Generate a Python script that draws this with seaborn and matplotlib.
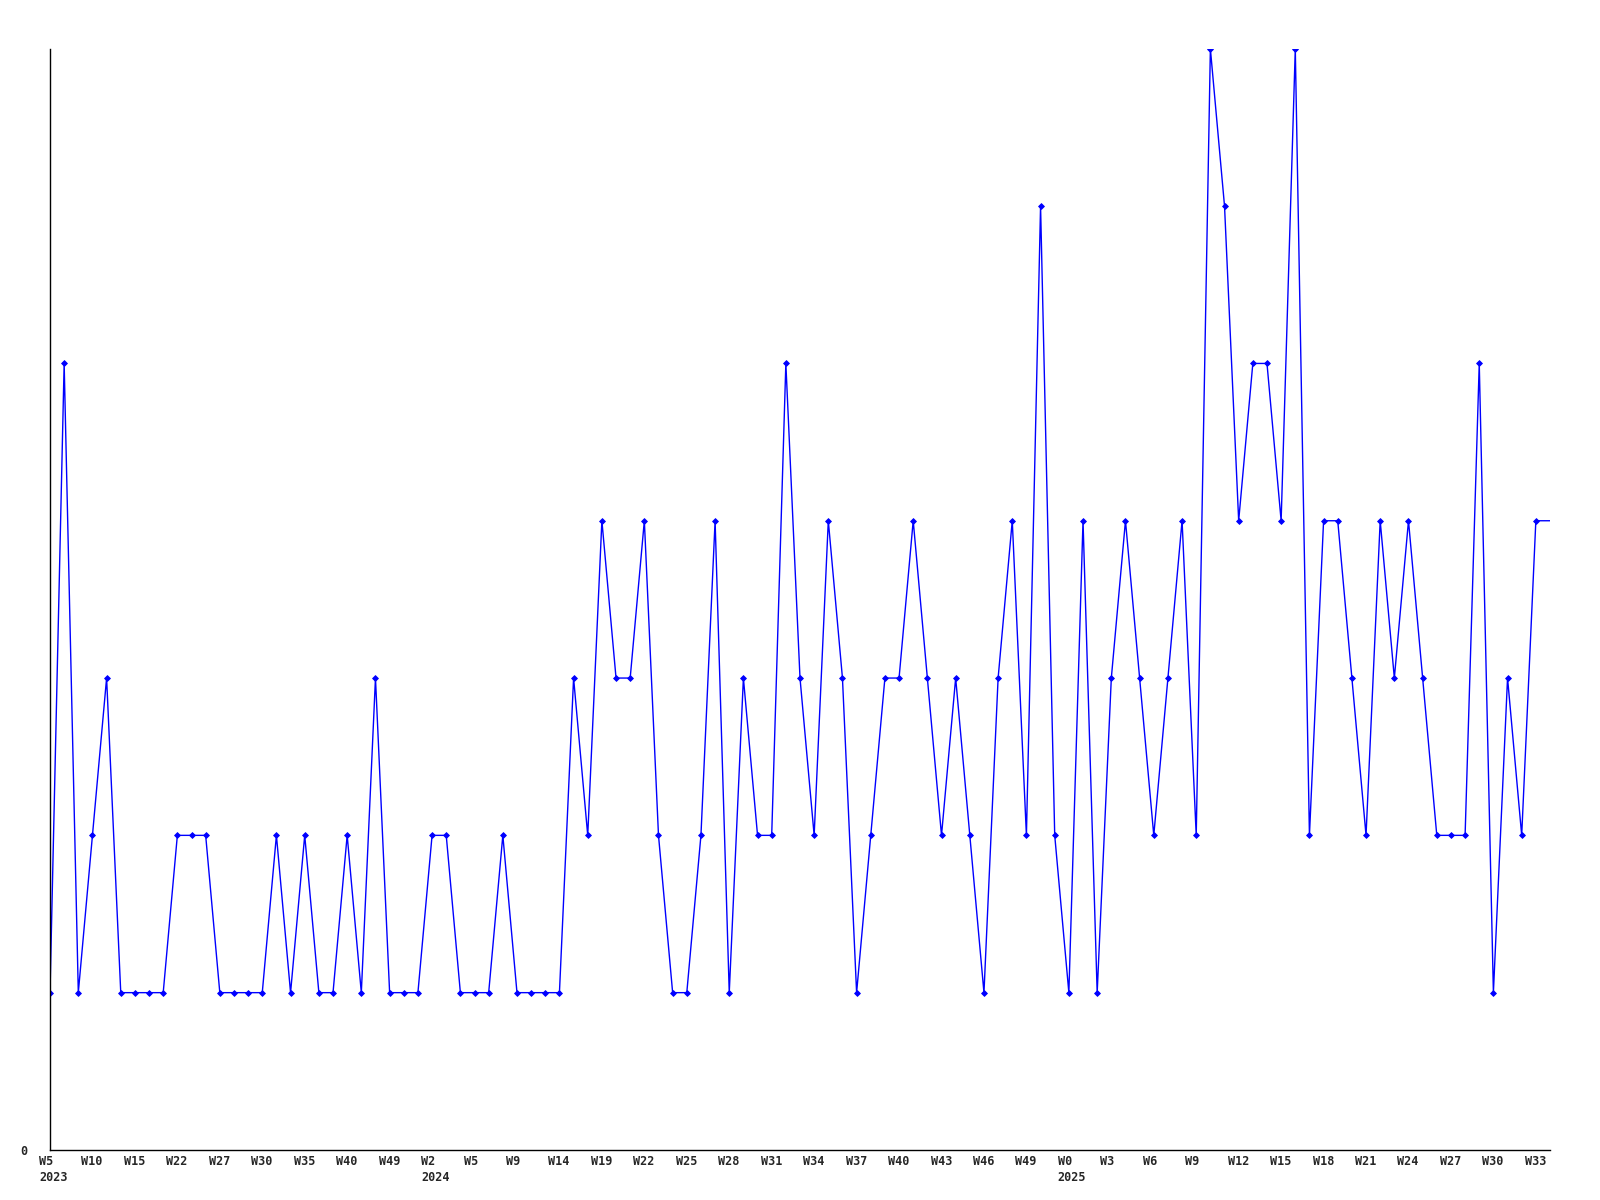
import matplotlib
matplotlib.use("Agg")
import matplotlib.pyplot as plt
import matplotlib.transforms as mtransforms
import numpy as np
import pandas as pd
import seaborn as sns

# weekly counts, one per week; the last value runs to the right edge without a marker
counts = [
    1, 5, 1, 2, 3, 1, 1, 1, 1, 2, 2, 2, 1, 1, 1, 1, 2, 1, 2, 1,
    1, 2, 1, 3, 1, 1, 1, 2, 2, 1, 1, 1, 2, 1, 1, 1, 1, 3, 2, 4,
    3, 3, 4, 2, 1, 1, 2, 4, 1, 3, 2, 2, 5, 3, 2, 4, 3, 1, 2, 3,
    3, 4, 3, 2, 3, 2, 1, 3, 4, 2, 6, 2, 1, 4, 1, 3, 4, 3, 2, 3,
    4, 2, 7, 6, 4, 5, 5, 4, 7, 2, 4, 4, 3, 2, 4, 3, 4, 3, 2, 2,
    2, 5, 1, 3, 2, 4, 4,
]

week_labels = [
    "W5", "W10", "W15", "W22", "W27", "W30", "W35", "W40", "W49",
    "W2", "W5", "W9", "W14", "W19", "W22", "W25", "W28", "W31",
    "W34", "W37", "W40", "W43", "W46", "W49",
    "W0", "W3", "W6", "W9", "W12", "W15", "W18", "W21", "W24",
    "W27", "W30", "W33",
]
year_labels = {0: "2023", 9: "2024", 24: "2025"}
label_step = 3

sns.set_style("white")
plt.rcParams["font.family"] = ["DejaVu Sans Mono"]

df = pd.DataFrame({"week": np.arange(len(counts)), "count": counts})

fig = plt.figure(figsize=(16, 12), dpi=100)
ax = fig.add_axes([0.03125, 0.0417, 0.9375, 0.9176])

sns.lineplot(
    data=df, x="week", y="count", ax=ax,
    color="#0000ff", linewidth=1.0,
    marker="D", markersize=3.0, markeredgewidth=0.6,
    markeredgecolor="#0000ff", markerfacecolor="#0000ff",
    markevery=list(range(len(counts) - 1)),
)

ax.set_xlim(0, len(counts) - 1)
ax.set_ylim(0, 7)

# week labels: left-aligned, starting a little to the left of their week
ax.set_xticks([])
label_trans = ax.get_xaxis_transform() + mtransforms.ScaledTranslation(
    -0.11, -0.05, fig.dpi_scale_trans)
for i, w in enumerate(week_labels):
    txt = f"{w}\n{year_labels[i]}" if i in year_labels else w
    ax.text(i * label_step, 0, txt, transform=label_trans,
            ha="left", va="top", fontsize=8.5, fontweight="bold",
            linespacing=1.35, clip_on=False)

ax.set_yticks([0])
ax.set_yticklabels(["0"], fontsize=8.5, fontweight="bold")
ax.tick_params(axis="y", length=0, pad=16)

ax.set_xlabel("")
ax.set_ylabel("")
for side in ["top", "right"]:
    ax.spines[side].set_visible(False)
for side in ["left", "bottom"]:
    ax.spines[side].set_color("black")
    ax.spines[side].set_linewidth(1.0)
ax.grid(False)

fig.savefig("out.png", dpi=100, facecolor="white")
plt.close(fig)
